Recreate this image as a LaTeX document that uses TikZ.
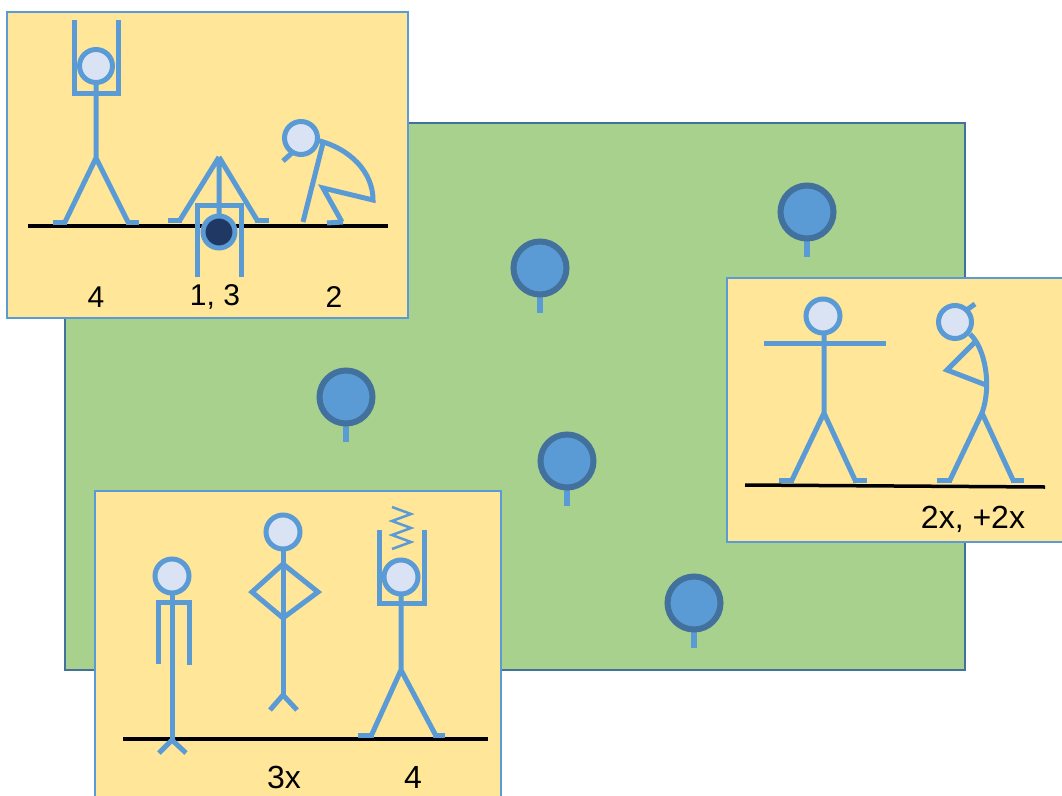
\documentclass[tikz,border=0pt]{standalone}
\usepackage{fontspec}
\setmainfont{Liberation Sans}
\definecolor{panelfill}{HTML}{FFE699}
\definecolor{figblue}{HTML}{5B9BD5}
\definecolor{headfill}{HTML}{DAE3F3}
\definecolor{treeedge}{HTML}{41719C}
\definecolor{grass}{HTML}{A9D18E}
\definecolor{ballfill}{HTML}{203864}
\begin{document}
\begin{tikzpicture}[x=1pt,y=-1pt,
  field/.style={fill=grass,draw=treeedge,line width=2pt},
  panel/.style={fill=panelfill,draw=figblue,line width=2pt},
  limb/.style={draw=figblue,line width=5pt},
  thinlimb/.style={draw=figblue,line width=2.5pt},
  head/.style={draw=figblue,fill=headfill,line width=5pt},
  ground/.style={draw=black,line width=3.5pt},
  crown/.style={draw=treeedge,fill=figblue,line width=6pt},
  trunk/.style={draw=figblue,line width=6pt},
  lbl/.style={font=\fontsize{30}{30}\selectfont,text=black,inner sep=0pt},
  biglbl/.style={lbl,font=\fontsize{32}{32}\selectfont}]
\useasboundingbox (0,0) rectangle (1062,795);
\clip (0,0) rectangle (1062,795);

% playing field
\draw[field] (65,123) rectangle (965,670);

% trees
\foreach \tx/\ty in {540/268, 807/212, 567/461, 346/397, 694/603}{
  \draw[trunk] (\tx,\ty+26) -- (\tx,\ty+45);
  \draw[crown] (\tx,\ty) circle[radius=26.5pt];
}

% ---------- top-left panel ----------
\draw[panel] (7,12) rectangle (408,318);
\draw[ground] (28,226) -- (388,226);
% arms raised
\draw[limb] (74,20) -- (74,93) -- (118,93) -- (118,20);
\draw[limb] (96,84) -- (96,158) -- (65,222) (96,158) -- (128,222);
\draw[limb] (53,222) -- (67,222) (126,222) -- (139,222);
\draw[head] (96,66) circle[radius=16.5pt];
% squat with ball
\draw[limb] (219,157) -- (180,220) (219,157) -- (257,220) (219,157) -- (219,214);
\draw[limb] (168,220) -- (182,220) (255,220) -- (269,220);
\draw[limb] (197,277) -- (197,205) -- (241,205) -- (241,277);
\draw[limb,fill=ballfill] (219,232) circle[radius=16pt];
% bent over
\draw[limb] (283,161) -- (293,152);
\draw[limb] (316,140) .. controls (350,148) and (373,172) .. (373,200) -- (323,188) -- (342,222);
\draw[limb] (327,223) -- (343,222);
\draw[limb] (323,143) -- (303,222);
\draw[head] (301,138) circle[radius=16.5pt];
\node[lbl] (l4) at (96,297) {4};
\node[lbl] (l13) at (215,297) {1, 3};
\node[lbl] (l2) at (334,297) {2};

% ---------- right panel ----------
\draw[panel] (727,278) rectangle (1080,542);
\draw[ground] (745,485) -- (1045,487);
% arms spread
\draw[limb] (764,343) -- (886,343);
\draw[limb] (824,330) -- (824,413) -- (792,480) (824,413) -- (855,480);
\draw[limb] (779,480) -- (794,480) (853,480) -- (867,480);
\draw[head] (823,316) circle[radius=17pt];
% hand on head
\draw[limb] (968,309) -- (975,304);
\draw[limb] (970,334) .. controls (985,348) and (992,385) .. (982,413);
\draw[limb] (975,342) -- (947,370) -- (986,385);
\draw[limb] (982,413) -- (950,480) (982,413) -- (1013,480);
\draw[limb] (937,480) -- (952,480) (1011,480) -- (1024,480);
\draw[head] (955,322) circle[radius=16.5pt];
\node[biglbl] (l2x) at (973,519) {2x, +2x};

% ---------- bottom panel ----------
\draw[panel] (95,491) rectangle (501,820);
\draw[ground] (123,739) -- (488,739);
% arms down
\draw[limb] (158,664) -- (158,602) -- (189,602) -- (189,665);
\draw[limb] (172,592) -- (172,740);
\draw[limb] (159,753) -- (172,740) -- (186,753);
\draw[head] (172,576) circle[radius=17pt];
% hands on hips
\draw[limb] (283,548) -- (283,695);
\draw[limb] (283,564) -- (252,592) -- (283,618) -- (318,592) -- cycle;
\draw[limb] (270,710) -- (283,695) -- (297,710);
\draw[head] (283,532) circle[radius=17pt];
% arms raised with spring
\draw[thinlimb] (392,507) -- (411,514) -- (392,521) -- (411,528) -- (392,535) -- (411,542) -- (392,549);
\draw[limb] (379,530) -- (379,603) -- (424,603) -- (424,530);
\draw[limb] (401,595) -- (401,670) -- (372,734) (401,670) -- (435,734);
\draw[limb] (358,735) -- (374,735) (433,735) -- (445,735);
\draw[head] (401,577) circle[radius=17pt];
\node[biglbl] (l3x) at (284,777) {3x};
\node[biglbl] (l4b) at (413,777) {4};
\end{tikzpicture}
\end{document}
